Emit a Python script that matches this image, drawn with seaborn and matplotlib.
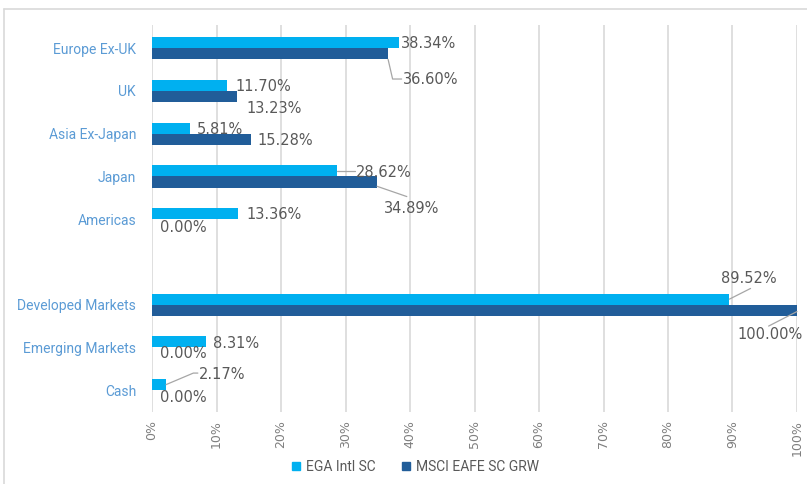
import numpy as np
import pandas as pd
import matplotlib
matplotlib.use("Agg")
import matplotlib.pyplot as plt
from matplotlib.lines import Line2D
import seaborn as sns

# data
categories = ["Europe Ex-UK", "UK", "Asia Ex-Japan", "Japan", "Americas", " ",
              "Developed Markets", "Emerging Markets", "Cash"]
series_names = ["EGA Intl SC", "MSCI EAFE SC GRW"]
ega_values = [38.34, 11.70, 5.81, 28.62, 13.36, np.nan, 89.52, 8.31, 2.17]
msci_values = [36.60, 13.23, 15.28, 34.89, 0.00, np.nan, 100.00, 0.00, 0.00]
x_ticks = list(range(0, 101, 10))

colors = ["#00B0F0", "#215D99"]

df = pd.DataFrame({
    "Region": categories * 2,
    "Series": [series_names[0]] * len(categories) + [series_names[1]] * len(categories),
    "Weight": ega_values + msci_values,
})

sns.set_style("white")
plt.rcParams["font.family"] = ["Roboto", "DejaVu Sans"]

fig = plt.figure(figsize=(8.07, 4.84), dpi=100)
ax = fig.add_axes([0.1884, 0.1488, 0.7992, 0.7992])

sns.barplot(data=df, y="Region", x="Weight", hue="Series", order=categories,
            hue_order=series_names, palette=colors, orient="h", width=0.52,
            dodge=True, errorbar=None, ax=ax, linewidth=0, saturation=1)

ax.set_xlim(0, 100)
ax.set_ylim(8.51, -0.54)
ax.set_xticks(x_ticks)
ax.set_xticklabels([f"{t}%" for t in x_ticks], rotation=90, color="#7F7F7F",
                   fontsize=9, family="DejaVu Sans")
ax.tick_params(axis="y", length=0, labelsize=10, labelcolor="#5B9BD5", pad=11.5)
ax.tick_params(axis="x", length=0, pad=6)
ax.set_xlabel("")
ax.set_ylabel("")
ax.xaxis.grid(True, color="#D9D9D9", linewidth=1.2)
ax.set_axisbelow(True)
for s in ax.spines.values():
    s.set_visible(False)

# data labels: (text x, y offset from category, ha, leader points or None)
label_gray = "#595959"
ega_label_pos = [
    (38.6, -0.10, "left", None),
    (13.0, -0.10, "left", None),
    (7.0, -0.10, "left", None),
    (31.6, -0.10, "left", [(28.62, -0.13), (31.4, -0.13)]),
    (14.6, -0.10, "left", None),
    None,
    (92.6, -0.61, "center", [(89.52, -0.13), (92.8, -0.38)]),
    (9.5, -0.10, "left", None),
    (7.3, -0.37, "left", [(2.17, -0.13), (6.4, -0.40), (7.1, -0.40)]),
]
msci_label_pos = [
    (38.9, 0.74, "left", [(36.6, 0.26), (37.3, 0.72), (38.7, 0.72)]),
    (14.6, 0.40, "left", None),
    (16.4, 0.16, "left", None),
    (36.0, 0.75, "left", [(34.89, 0.23), (39.5, 0.47)]),
    (1.2, 0.19, "left", None),
    None,
    (95.8, 0.70, "center", [(100.0, 0.16), (95.6, 0.50)]),
    (1.2, 0.14, "left", None),
    (1.2, 0.16, "left", None),
]
for i, cat in enumerate(categories):
    for vals, pos in ((ega_values, ega_label_pos), (msci_values, msci_label_pos)):
        if pos[i] is None:
            continue
        tx, dy, ha, leader = pos[i]
        ax.text(tx, i + dy, f"{vals[i]:.2f}%", ha=ha, va="center", family="DejaVu Sans",
                fontsize=10.5, color=label_gray, clip_on=False)
        if leader:
            xs, ys = zip(*leader)
            ax.plot(xs, [i + y for y in ys], color="#A6A6A6", lw=0.9,
                    clip_on=False, zorder=5)

# legend
handles = [Line2D([], [], marker="s", linestyle="", markersize=6,
                  markerfacecolor=c, markeredgecolor=c) for c in colors]
ax.legend(handles, series_names, loc="center", bbox_to_anchor=(0.405, -0.142),
          ncol=2, frameon=False, fontsize=10, handletextpad=0.1, columnspacing=1.6,
          handlelength=1.2, labelcolor="#595959")

# chart frame
fig.add_artist(Line2D([4 / 807, 4 / 807], [0, 1 - 9 / 484], color="#D9D9D9", lw=1.2))
fig.add_artist(Line2D([4 / 807, 1], [1 - 9 / 484, 1 - 9 / 484], color="#D9D9D9", lw=1.2))

fig.savefig("out.png", dpi=100)
